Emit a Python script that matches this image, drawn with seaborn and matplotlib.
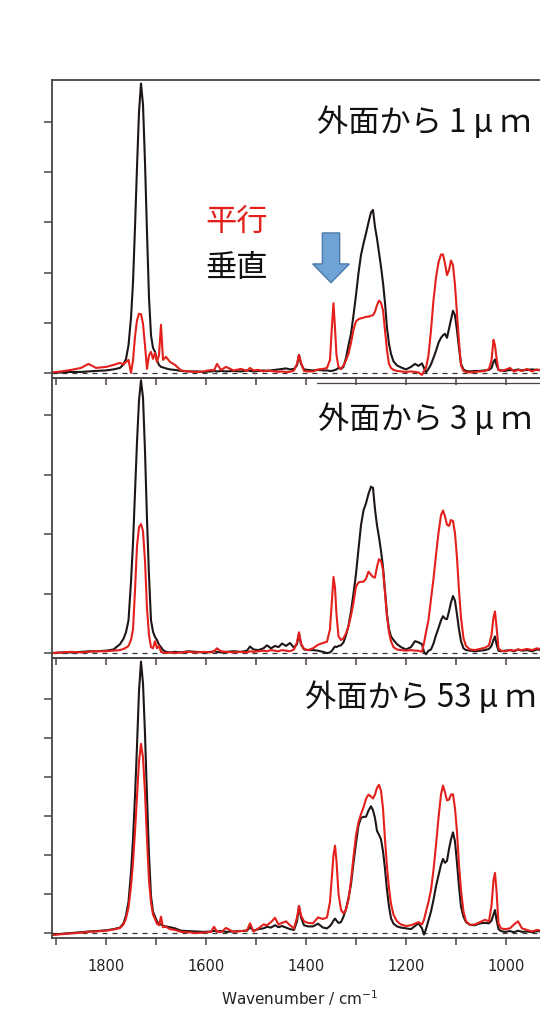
import pandas as pd
import seaborn as sns
import matplotlib.pyplot as plt
from matplotlib.patches import FancyArrow
from matplotlib.lines import Line2D

# wavenumber grid (cm-1), shared by all spectra
wavenumber = [
    1908, 1890, 1870, 1850, 1835, 1820, 1800, 1785, 1772, 1765,
    1760, 1755, 1750, 1746, 1742, 1738, 1734, 1730, 1726, 1722,
    1718, 1714, 1710, 1706, 1702, 1698, 1694, 1690, 1686, 1680,
    1672, 1662, 1650, 1635, 1620, 1605, 1590, 1584, 1578, 1570,
    1560, 1545, 1530, 1518, 1512, 1505, 1495, 1485, 1478, 1470,
    1462, 1455, 1448, 1440, 1432, 1424, 1418, 1414, 1410, 1404,
    1396, 1386, 1376, 1366, 1358, 1352, 1348, 1345, 1342, 1339,
    1335, 1330, 1325, 1320, 1315, 1310, 1305, 1300, 1295, 1290,
    1285, 1280, 1275, 1270, 1266, 1262, 1258, 1254, 1250, 1246,
    1242, 1238, 1234, 1230, 1225, 1218, 1210, 1200, 1190, 1182,
    1175, 1168, 1164, 1160, 1155, 1150, 1145, 1140, 1135, 1130,
    1126, 1122, 1118, 1114, 1110, 1106, 1102, 1098, 1094, 1090,
    1085, 1080, 1072, 1062, 1052, 1042, 1034, 1029, 1025, 1022,
    1019, 1015, 1010, 1002, 992, 984, 976, 968, 958, 948,
    938, 928,
]

# 1 um from the outer surface
p1_perpendicular = [
    0.00, 0.01, 0.02, 0.02, 0.03, 0.04, 0.05, 0.07, 0.10, 0.17,
    0.28, 0.55, 1.10, 1.80, 2.90, 4.10, 5.20, 5.77, 5.35, 4.20,
    2.80, 1.50, 0.75, 0.50, 0.42, 0.25, 0.16, 0.12, 0.11, 0.09,
    0.07, 0.06, 0.04, 0.03, 0.03, 0.02, 0.03, 0.04, 0.03, 0.04,
    0.03, 0.04, 0.03, 0.05, 0.04, 0.03, 0.04, 0.05, 0.04, 0.05,
    0.06, 0.07, 0.08, 0.09, 0.07, 0.08, 0.15, 0.36, 0.18, 0.07,
    0.06, 0.05, 0.06, 0.05, 0.05, 0.04, 0.04, 0.05, 0.06, 0.07,
    0.10, 0.08, 0.12, 0.30, 0.55, 0.78, 1.15, 1.55, 1.99, 2.35,
    2.58, 2.78, 3.00, 3.20, 3.25, 2.91, 2.68, 2.40, 2.12, 1.80,
    1.40, 0.90, 0.58, 0.38, 0.23, 0.15, 0.11, 0.07, 0.12, 0.18,
    0.14, 0.19, 0.10, 0.01, 0.08, 0.17, 0.30, 0.44, 0.60, 0.70,
    0.75, 0.78, 0.70, 0.88, 1.05, 1.24, 1.15, 0.85, 0.50, 0.18,
    0.07, 0.04, 0.03, 0.04, 0.04, 0.05, 0.06, 0.10, 0.22, 0.27,
    0.16, 0.06, 0.05, 0.04, 0.06, 0.05, 0.07, 0.05, 0.06, 0.07,
    0.06, 0.05,
]
p1_parallel = [
    0.01, 0.03, 0.06, 0.10, 0.18, 0.10, 0.12, 0.16, 0.20, 0.17,
    0.22, 0.26, 0.00, 0.25, 0.72, 1.05, 1.18, 1.17, 0.98, 0.55,
    0.08, 0.35, 0.42, 0.28, 0.40, 0.22, 0.35, 0.96, 0.26, 0.32,
    0.22, 0.16, 0.05, 0.03, 0.02, 0.03, 0.06, 0.05, 0.18, 0.06,
    0.12, 0.05, 0.08, 0.04, 0.10, 0.05, 0.06, 0.03, 0.05, 0.04,
    0.03, 0.02, 0.03, 0.02, 0.02, 0.05, 0.18, 0.36, 0.20, 0.04,
    0.03, 0.03, 0.07, 0.08, 0.10, 0.26, 0.95, 1.39, 0.90, 0.35,
    0.12, 0.08, 0.15, 0.25, 0.38, 0.60, 0.86, 1.03, 1.07, 1.09,
    1.10, 1.12, 1.12, 1.14, 1.15, 1.22, 1.35, 1.44, 1.40, 1.25,
    0.86, 0.45, 0.18, 0.10, 0.06, 0.04, 0.03, 0.02, 0.03, 0.02,
    0.01, -0.04, 0.04, 0.10, 0.35, 0.85, 1.45, 1.90, 2.20, 2.36,
    2.36, 2.18, 1.95, 2.05, 2.24, 2.15, 1.75, 1.20, 0.62, 0.15,
    0.04, 0.02, 0.01, 0.02, 0.03, 0.04, 0.08, 0.25, 0.66, 0.55,
    0.30, 0.06, 0.04, 0.06, 0.10, 0.03, 0.06, 0.04, 0.08, 0.03,
    0.07, 0.05,
]

# 3 um from the outer surface
p2_perpendicular = [
    0.00, 0.01, 0.01, 0.02, 0.03, 0.03, 0.04, 0.06, 0.15, 0.24,
    0.35, 0.55, 1.20, 1.85, 2.70, 3.55, 4.25, 4.59, 4.30, 3.40,
    2.25, 1.30, 0.55, 0.36, 0.27, 0.22, 0.14, 0.10, 0.05, 0.02,
    0.01, 0.02, 0.01, 0.03, 0.02, 0.01, 0.02, 0.03, 0.02, 0.01,
    0.02, 0.03, 0.02, 0.04, 0.11, 0.06, 0.05, 0.08, 0.13, 0.08,
    0.12, 0.10, 0.16, 0.12, 0.17, 0.09, 0.15, 0.33, 0.15, 0.06,
    0.05, 0.05, 0.04, 0.02, 0.00, 0.01, 0.04, 0.08, 0.11, 0.10,
    0.12, 0.13, 0.18, 0.30, 0.46, 0.70, 1.00, 1.33, 1.75, 2.15,
    2.40, 2.52, 2.68, 2.80, 2.78, 2.42, 2.15, 1.95, 1.72, 1.45,
    1.05, 0.65, 0.40, 0.28, 0.22, 0.15, 0.10, 0.06, 0.10, 0.20,
    0.18, 0.15, 0.02, -0.02, 0.04, 0.06, 0.16, 0.30, 0.42, 0.55,
    0.62, 0.58, 0.57, 0.70, 0.85, 0.96, 0.88, 0.65, 0.40, 0.20,
    0.08, 0.05, 0.04, 0.03, 0.04, 0.05, 0.07, 0.12, 0.22, 0.28,
    0.15, 0.04, 0.03, 0.04, 0.05, 0.03, 0.06, 0.04, 0.05, 0.03,
    0.06, 0.05,
]
p2_parallel = [
    0.00, 0.01, 0.02, 0.01, 0.02, 0.03, 0.03, 0.04, 0.05, 0.07,
    0.09, 0.12, 0.22, 0.40, 1.05, 1.80, 2.12, 2.17, 2.05, 1.55,
    0.75, 0.30, 0.10, 0.08, 0.20, 0.08, 0.12, 0.02, 0.01, 0.00,
    0.01, 0.00, 0.01, 0.02, 0.01, 0.02, 0.01, 0.03, 0.08, 0.03,
    0.02, 0.01, 0.02, 0.01, 0.03, 0.02, 0.03, 0.04, 0.03, 0.05,
    0.04, 0.03, 0.05, 0.04, 0.03, 0.06, 0.18, 0.35, 0.16, 0.07,
    0.05, 0.08, 0.14, 0.17, 0.19, 0.40, 0.90, 1.28, 1.10, 0.65,
    0.28, 0.22, 0.25, 0.33, 0.45, 0.63, 0.85, 1.12, 1.19, 1.20,
    1.20, 1.25, 1.37, 1.32, 1.28, 1.27, 1.45, 1.58, 1.55, 1.40,
    1.01, 0.62, 0.35, 0.20, 0.10, 0.06, 0.05, 0.04, 0.05, 0.04,
    0.04, 0.02, 0.17, 0.35, 0.56, 0.90, 1.25, 1.65, 2.02, 2.32,
    2.40, 2.30, 2.16, 2.14, 2.24, 2.22, 2.02, 1.60, 1.05, 0.60,
    0.25, 0.12, 0.06, 0.05, 0.07, 0.09, 0.13, 0.30, 0.60, 0.70,
    0.45, 0.08, 0.04, 0.03, 0.05, 0.04, 0.06, 0.05, 0.07, 0.05,
    0.08, 0.06,
]

# 53 um from the outer surface
p3_perpendicular = [
    -0.04, -0.02, 0.00, 0.02, 0.04, 0.05, 0.07, 0.10, 0.14, 0.25,
    0.45, 0.80, 1.55, 2.40, 3.50, 4.80, 6.20, 6.96, 6.40, 5.10,
    3.50, 2.00, 0.95, 0.55, 0.42, 0.30, 0.24, 0.22, 0.18, 0.17,
    0.15, 0.12, 0.06, 0.05, 0.04, 0.03, 0.04, 0.06, 0.04, 0.05,
    0.03, 0.04, 0.05, 0.06, 0.15, 0.06, 0.10, 0.12, 0.16, 0.14,
    0.20, 0.15, 0.18, 0.14, 0.10, 0.08, 0.30, 0.69, 0.40, 0.20,
    0.17, 0.17, 0.24, 0.14, 0.12, 0.18, 0.25, 0.32, 0.37, 0.32,
    0.26, 0.28, 0.42, 0.62, 0.90, 1.25, 1.80, 2.30, 2.76, 2.95,
    2.98, 2.98, 3.14, 3.25, 3.15, 2.95, 2.62, 2.52, 2.40, 2.10,
    1.65, 1.10, 0.68, 0.38, 0.24, 0.17, 0.14, 0.12, 0.10, 0.18,
    0.25, 0.12, -0.04, 0.10, 0.32, 0.55, 0.85, 1.20, 1.48, 1.75,
    1.90, 1.80, 1.85, 2.15, 2.40, 2.58, 2.35, 1.80, 1.20, 0.68,
    0.42, 0.28, 0.21, 0.20, 0.25, 0.26, 0.25, 0.32, 0.47, 0.59,
    0.35, 0.10, 0.05, 0.03, 0.05, 0.02, 0.06, 0.03, 0.04, 0.02,
    0.05, 0.04,
]
p3_parallel = [
    -0.05, -0.03, -0.01, 0.01, 0.03, 0.04, 0.06, 0.09, 0.13, 0.22,
    0.38, 0.65, 1.20, 1.80, 2.60, 3.50, 4.40, 4.85, 4.50, 3.60,
    2.40, 1.35, 0.78, 0.48, 0.36, 0.24, 0.20, 0.42, 0.15, 0.16,
    0.10, 0.08, 0.03, 0.02, 0.00, 0.01, 0.03, 0.16, 0.04, 0.02,
    0.13, 0.03, 0.05, 0.07, 0.25, 0.04, 0.12, 0.22, 0.20, 0.28,
    0.39, 0.22, 0.26, 0.30, 0.20, 0.12, 0.40, 0.69, 0.45, 0.30,
    0.26, 0.25, 0.40, 0.36, 0.40, 0.80, 1.50, 2.00, 2.24, 1.85,
    1.00, 0.60, 0.50, 0.60, 0.85, 1.35, 1.95, 2.50, 2.84, 3.05,
    3.22, 3.44, 3.55, 3.50, 3.45, 3.55, 3.72, 3.80, 3.65, 3.20,
    2.40, 1.70, 1.15, 0.75, 0.47, 0.30, 0.22, 0.18, 0.20, 0.24,
    0.28, 0.22, 0.34, 0.55, 0.80, 1.10, 1.62, 2.25, 2.95, 3.55,
    3.78, 3.61, 3.40, 3.42, 3.55, 3.56, 3.20, 2.60, 1.75, 1.10,
    0.55, 0.30, 0.21, 0.22, 0.28, 0.34, 0.30, 0.70, 1.35, 1.54,
    1.10, 0.25, 0.12, 0.10, 0.12, 0.22, 0.30, 0.12, 0.08, 0.04,
    0.08, 0.06,
]

panel_titles = ["外面から 1 μ ｍ", "外面から 3 μ ｍ", "外面から 53 μ ｍ"]
series_names = ["平行", "垂直"]
x_ticks = list(range(1900, 899, -100))
x_ticklabels = ["" if t % 200 else str(t) for t in x_ticks]

red = "#e3201b"
black = "#1e1616"
spine_col = "#4a4444"

sns.set_theme(style="ticks")
plt.rcParams["font.family"] = ["Noto Sans CJK JP", "DejaVu Sans"]

fig = plt.figure(figsize=(5.4, 10.29), dpi=100)

spectra = [
    (p1_parallel, p1_perpendicular),
    (p2_parallel, p2_perpendicular),
    (p3_parallel, p3_perpendicular),
]
# layout per panel: axes rect, y limits, number of y ticks, title position
rects = [
    [0.0963, 0.6327, 0.9333, 0.2896],
    [0.0963, 0.3605, 0.9333, 0.2722],
    [0.0963, 0.0884, 0.9333, 0.2721],
]
ylims = [(-0.10, 5.84), (-0.084, 4.63), (-0.128, 7.05)]
ntick = [5, 4, 6]
title_pos = [(0.587, 0.8805), (0.589, 0.5918), (0.565, 0.3217)]

for i, (par, perp) in enumerate(spectra):
    assert len(par) == len(wavenumber) and len(perp) == len(wavenumber)
    ax = fig.add_axes(rects[i])
    df = pd.DataFrame({"wn": wavenumber, series_names[0]: par, series_names[1]: perp})
    long = df.melt(id_vars="wn", var_name="kind", value_name="abs")
    sns.lineplot(data=long, x="wn", y="abs", hue="kind",
                 hue_order=[series_names[1], series_names[0]],
                 palette={series_names[0]: red, series_names[1]: black},
                 estimator=None, sort=False, lw=1.5, legend=False, ax=ax)
    ax.axhline(0, color="#333333", lw=0.9, ls=(0, (4, 4)), zorder=0.5)
    ax.set_xlim(1908, 900)
    ax.set_ylim(*ylims[i])
    ax.set_yticks(range(ntick[i] + 1))
    ax.set_yticklabels([])
    ax.set_xticks(x_ticks)
    if i == 2:
        ax.set_xticklabels(x_ticklabels, fontsize=10.5, family="DejaVu Sans", color="#222222")
    else:
        ax.set_xticklabels([])
    ax.set_xlabel("")
    ax.set_ylabel("")
    ax.tick_params(axis="x", direction="out", length=5, width=1.1, color=spine_col, pad=10)
    ax.tick_params(axis="y", direction="out", length=6, width=1.1, color=spine_col)
    for side in ["left", "bottom", "top"]:
        ax.spines[side].set_color(spine_col)
        ax.spines[side].set_linewidth(1.3)
    ax.spines["right"].set_visible(False)
    ax.patch.set_alpha(0)
    fig.text(title_pos[i][0], title_pos[i][1], panel_titles[i], fontsize=22.5,
             color="#111111", ha="left", va="center")

# thin extra rule under the first panel
fig.add_artist(Line2D([317 / 540, 1.0], [1 - 383 / 1029] * 2, color=spine_col, lw=0.9))

# legend text
fig.text(0.381, 0.7843, series_names[0], color=red, fontsize=22.5, ha="left", va="center")
fig.text(0.381, 0.7396, series_names[1], color="#111111", fontsize=22.5, ha="left", va="center")

# blue arrow marking the 1340 band
arrow = FancyArrow(0.613, 0.7736, 0, -0.0483, width=0.032, head_width=0.0678,
                   head_length=0.0182, length_includes_head=True,
                   transform=fig.transFigure, fc="#6fa3d6", ec="#4b7aa8", lw=1.0)
fig.add_artist(arrow)

fig.text(300 / 540, 1 - 998 / 1029, "Wavenumber / cm$^{-1}$", fontsize=11,
         family="DejaVu Sans", color="#222222", ha="center", va="center")

fig.savefig("out.png", dpi=100)
